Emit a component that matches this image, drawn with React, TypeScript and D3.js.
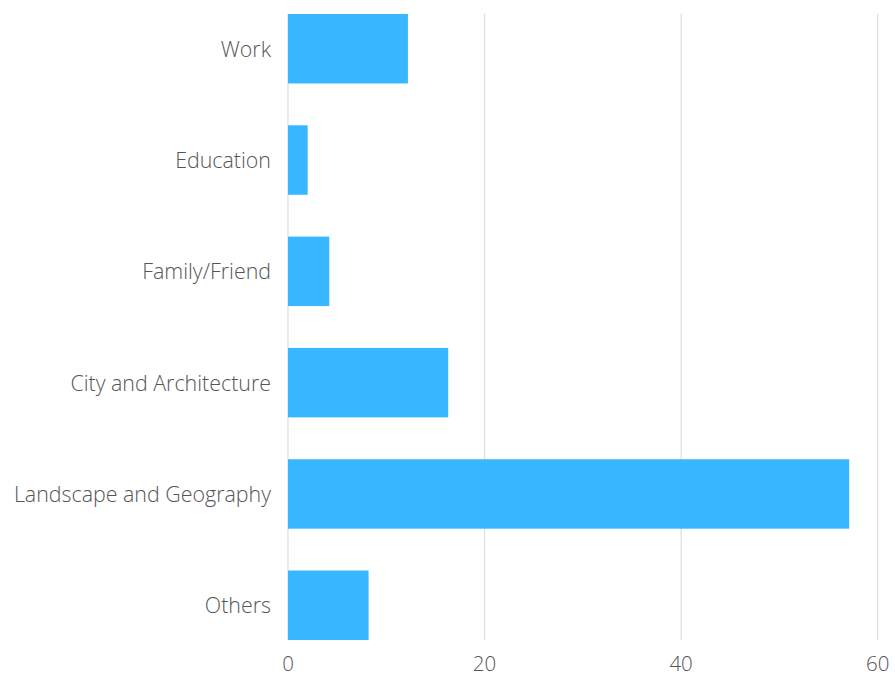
import React from "react";
import * as d3 from "d3";

const categories = ["Work", "Education", "Family/Friend", "City and Architecture", "Landscape and Geography", "Others"];
const values = [12.2, 2.0, 4.2, 16.3, 57.1, 8.2];
const xTicks = [0, 20, 40, 60];

const W = 895;
const H = 677;
const margin = { top: 14, right: 17, bottom: 37, left: 288 };

export default function App() {
  const x = d3.scaleLinear().domain([0, 60]).range([margin.left, W - margin.right - 0.3]);
  const y = d3
    .scaleBand<string>()
    .domain(categories)
    .range([margin.top, H - margin.bottom])
    .paddingInner(0.376)
    .paddingOuter(0);
  const font = "'Open Sans', sans-serif";
  const fs = 21.4;
  return (
    <svg width={W} height={H} style={{ position: "absolute", left: 0, top: 0, background: "#fff" }}>
      {xTicks.map((t) => (
        <g key={t}>
          <line x1={x(t)} x2={x(t)} y1={margin.top} y2={H - margin.bottom} stroke="#dddddd" strokeWidth={1.2} />
          <text x={x(t)} y={H - margin.bottom + 31} textAnchor="middle" fontFamily={font} fontWeight={300} fontSize={20.5} fill="#555">
            {t}
          </text>
        </g>
      ))}
      {categories.map((c, i) => (
        <g key={c}>
          <rect x={x(0)} y={y(c)!} width={x(values[i]) - x(0)} height={y.bandwidth()} fill="#38b6ff" />
          <text
            x={margin.left - 17}
            y={y(c)! + y.bandwidth() / 2}
            dy="0.38em"
            textAnchor="end"
            fontFamily={font}
            fontWeight={300}
            fontSize={fs}
            fill="#555"
          >
            {c}
          </text>
        </g>
      ))}
    </svg>
  );
}
